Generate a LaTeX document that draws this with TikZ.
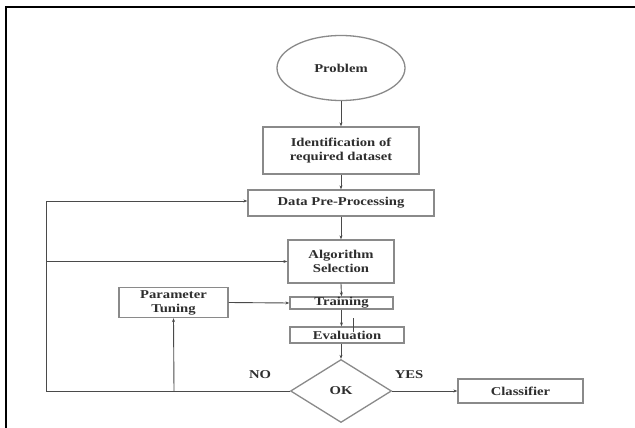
\documentclass[tikz,border=0pt]{standalone}
\usepackage{fontspec}
\setmainfont{Liberation Serif}[FakeStretch=1.22]
\usetikzlibrary{shapes.geometric,arrows.meta}
\definecolor{boxc}{HTML}{8A8A8A}
\definecolor{linec}{HTML}{4A4A4A}
\definecolor{txtc}{HTML}{2E2E2E}
\begin{document}
\begin{tikzpicture}[x=1pt,y=-1pt,
  every node/.style={font=\fontsize{12}{14}\selectfont\bfseries, text=txtc, inner sep=0pt, align=center},
  boxn/.style={draw=boxc, line width=1.3pt, rectangle},
  arr/.style={draw=linec, line width=0.9pt, -{Stealth[length=4pt,width=3pt]}},
  ln/.style={draw=linec, line width=0.9pt}]
\useasboundingbox (0,0) rectangle (635,428);
\fill[white] (0,0) rectangle (635,428);
% frame
\draw[line width=2pt] (6,428) -- (6,7) -- (635,7);
% nodes
\node[draw=boxc, line width=1.3pt, ellipse, minimum width=128pt, minimum height=65pt] (prob) at (341,68) {Problem};
\node[boxn, minimum width=156pt, minimum height=47pt] (ident) at (341,150.5) {Identification of\\required dataset};
\node[boxn, minimum width=186pt, minimum height=26pt] (dpp) at (341,203) {Data Pre-Processing};
\node[boxn, minimum width=106pt, minimum height=43pt] (alg) at (341,261.5) {Algorithm\\Selection};
\node[boxn, minimum width=103pt, minimum height=12pt] (train) at (341.5,303) {Training};
\node[boxn, minimum width=114pt, minimum height=16pt] (eval) at (347,335) {Evaluation};
\node[draw=boxc, line width=1.3pt, diamond, minimum width=101pt, minimum height=63pt] (ok) at (341,391) {OK};
\node[boxn, minimum width=125pt, minimum height=24pt] (cls) at (520.5,391) {Classifier};
\node[boxn, minimum width=109pt, minimum height=30pt] (pt) at (173.5,302.5) {Parameter\\Tuning};
\node (no) at (260,375) {NO};
\node (yes) at (409,375) {YES};
% coordinates
\coordinate (lb) at (46,391);
\coordinate (lt) at (46,201);
\coordinate (pb) at (174,391);
\coordinate (s1) at (353,318);
\coordinate (s2) at (353,332);
% connectors
\draw[arr] (prob.south) -- (ident.north);
\draw[arr] (ident.south) -- (dpp.north);
\draw[arr] (dpp.south) -- (alg.north);
\draw[arr] (alg.south) -- (train.north);
\draw[arr] (train.south) -- (train.south |- eval.north);
\draw[arr] (ok |- eval.south) -- (ok.north);
\draw[arr] (ok.east) -- (cls.west);
\draw[ln] (ok.west) -- (lb) -- (lt);
\draw[arr] (lt) -- (lt -| dpp.west);
\draw[arr] (lb |- alg.west) -- (alg.west);
\draw[arr] (pb) -- (pt.south);
\draw[arr] (pt.east) -- (train.west);
\draw[ln, line width=0.7pt] (s1) -- (s2);
\end{tikzpicture}
\end{document}
